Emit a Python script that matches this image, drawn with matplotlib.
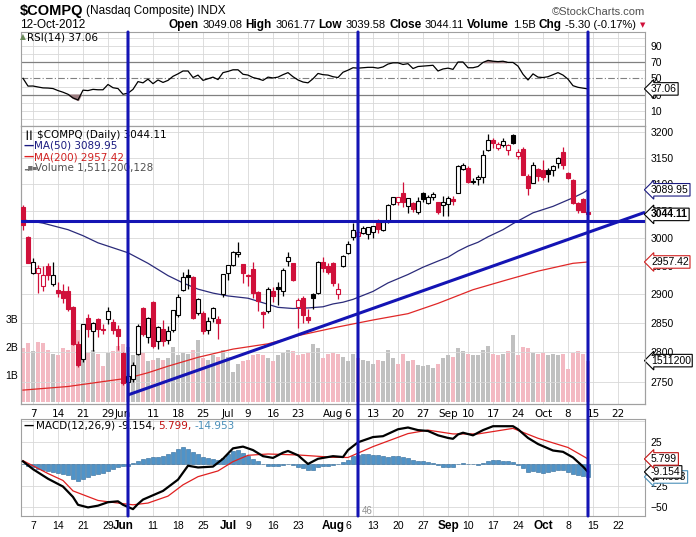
import matplotlib
matplotlib.use("Agg")
import matplotlib.pyplot as plt
from matplotlib.patches import Rectangle, ConnectionPatch
from matplotlib.transforms import blended_transform_factory
from matplotlib.ticker import FixedLocator, NullLocator
import numpy as np

W, H = 696, 537

# ---------------- data ----------------
trading_days = {
    5: [3, 4, 7, 8, 9, 10, 11, 14, 15, 16, 17, 18, 21, 22, 23, 24, 25, 29, 30, 31],
    6: [1, 4, 5, 6, 7, 8, 11, 12, 13, 14, 15, 18, 19, 20, 21, 22, 25, 26, 27, 28, 29],
    7: [2, 3, 5, 6, 9, 10, 11, 12, 13, 16, 17, 18, 19, 20, 23, 24, 25, 26, 27, 30, 31],
    8: [1, 2, 3, 6, 7, 8, 9, 10, 13, 14, 15, 16, 17, 20, 21, 22, 23, 24, 27, 28, 29, 30, 31],
    9: [4, 5, 6, 7, 10, 11, 12, 13, 14, 17, 18, 19, 20, 21, 24, 25, 26, 27, 28],
    10: [1, 2, 3, 4, 5, 8, 9, 10, 11, 12],
}
future_days = {10: [15, 16, 17, 18, 19, 22, 23, 24, 25, 26]}

prev_close = 3059.85
opens = [3058, 3003, 2938, 2938, 2915, 2950, 2918, 2908, 2905, 2906,
         2877, 2814, 2788, 2858, 2836, 2856, 2840, 2856, 2851, 2840,
         2798, 2749, 2755, 2797, 2876, 2826, 2886, 2818, 2840, 2820,
         2838, 2864, 2908, 2934, 2930, 2867, 2867, 2838, 2858, 2857,
         2900, 2938, 2952, 2972, 2953, 2934, 2944, 2904, 2869, 2870,
         2906, 2912, 2905, 2960, 2955, 2877, 2894, 2860, 2900, 2902,
         2958, 2950, 2956, 2900, 2950, 2973, 3002, 3005, 3010, 3008,
         3011, 3031, 3016, 3032, 3064, 3068, 3083, 3060, 3066, 3049,
         3083, 3066, 3076, 3067, 3062, 3063, 3072, 3083, 3130, 3132,
         3105, 3110, 3114, 3166, 3185, 3170, 3175, 3166, 3195, 3154,
         3168, 3115, 3103, 3130, 3128, 3128, 3128, 3140, 3161, 3122,
         3109, 3065, 3072, 3049.08]
highs = [3062, 3005, 2965, 2952, 2951, 2955, 2958, 2922, 2918, 2915,
         2880, 2819, 2848, 2866, 2851, 2859, 2848, 2877, 2856, 2846,
         2800, 2765, 2783, 2848, 2877, 2860, 2888, 2845, 2855, 2845,
         2873, 2900, 2939, 2944, 2933, 2894, 2870, 2860, 2878, 2862,
         2935, 2952, 2977, 2994, 2954, 2936, 2958, 2905, 2870, 2912,
         2912, 2922, 2947, 2975, 2956, 2893, 2897, 2875, 2902, 2960,
         2967, 2955, 2958, 2920, 2970, 2995, 3029, 3015, 3022, 3021,
         3023, 3036, 3034, 3064, 3077, 3077, 3105, 3075, 3068, 3076,
         3086, 3081, 3086, 3068, 3078, 3079, 3079, 3136, 3141, 3134,
         3112, 3117, 3166, 3196, 3188, 3181, 3189, 3178, 3197, 3168,
         3171, 3119, 3142, 3132, 3146, 3131, 3137, 3152, 3171, 3124,
         3110, 3068, 3074, 3061.77]
lows = [3015, 2955, 2935, 2903, 2906, 2925, 2915, 2895, 2885, 2870,
        2812, 2774, 2783, 2826, 2801, 2825, 2831, 2848, 2830, 2804,
        2744, 2726.68, 2750, 2795, 2827, 2815, 2807, 2805, 2810, 2813,
        2834, 2861, 2906, 2910, 2857, 2863, 2831, 2831, 2852, 2822,
        2896, 2926, 2951, 2967, 2920, 2915, 2894, 2870, 2841, 2868,
        2887, 2881, 2897, 2950, 2923, 2842, 2850, 2850, 2874, 2900,
        2940, 2935, 2914, 2891, 2948, 2971, 2998, 3002, 3008, 2999,
        3000, 3010, 3014, 3029, 3062, 3062, 3058, 3047, 3049, 3045,
        3068, 3063, 3070, 3045, 3042, 3042, 3062, 3083, 3127, 3102,
        3100, 3099, 3103, 3164, 3170, 3166, 3172, 3155, 3177, 3148,
        3117, 3080, 3102, 3106, 3108, 3105, 3115, 3131, 3130, 3110,
        3064, 3047, 3049, 3039.58]
closes = [3024.30, 2956.34, 2957.76, 2946.27, 2934.71, 2933.64, 2933.82, 2902.58, 2893.76, 2874.04,
          2813.69, 2778.79, 2847.21, 2839.38, 2850.12, 2839.08, 2837.53, 2870.99, 2837.36, 2827.34,
          2747.48, 2760.01, 2778.11, 2844.72, 2831.02, 2858.42, 2809.73, 2843.07, 2818.61, 2836.33,
          2872.80, 2895.33, 2929.76, 2930.45, 2859.09, 2892.42, 2836.16, 2854.06, 2875.32, 2849.49,
          2935.05, 2951.23, 2976.08, 2976.12, 2937.33, 2931.77, 2902.33, 2887.98, 2866.19, 2908.47,
          2896.94, 2910.04, 2942.60, 2965.90, 2925.30, 2890.15, 2862.99, 2854.24, 2893.25, 2958.09,
          2945.84, 2939.52, 2920.21, 2909.77, 2967.90, 2989.91, 3015.86, 3011.25, 3018.64, 3020.86,
          3022.52, 3016.98, 3030.93, 3062.39, 3076.59, 3076.21, 3067.26, 3073.67, 3053.40, 3069.79,
          3073.19, 3077.14, 3081.19, 3048.71, 3066.96, 3075.06, 3069.27, 3135.81, 3136.42, 3104.02,
          3104.53, 3114.31, 3155.83, 3183.95, 3178.67, 3177.80, 3182.62, 3175.96, 3179.96, 3160.78,
          3117.73, 3093.70, 3136.60, 3116.23, 3113.53, 3120.04, 3135.23, 3149.46, 3136.19, 3112.35,
          3065.02, 3051.78, 3049.41, 3044.11]
volume_b = [1.95, 2.15, 1.85, 2.20, 2.15, 1.90, 1.75, 1.70, 1.95, 1.90,
            2.70, 2.60, 2.00, 1.80, 1.90, 1.75, 1.30, 1.80, 1.85, 2.05,
            2.10, 2.00, 1.70, 1.75, 1.80, 1.50, 1.55, 1.60, 1.55, 1.60,
            2.00, 1.70, 1.80, 1.75, 1.90, 2.25, 1.60, 1.55, 1.70, 1.65,
            1.90, 1.65, 1.10, 1.40, 1.50, 1.55, 1.70, 1.75, 1.70, 1.60,
            1.50, 1.70, 1.80, 1.90, 1.85, 1.70, 1.75, 1.80, 2.10, 1.95,
            1.60, 1.75, 1.80, 1.75, 1.65, 1.50, 1.75, 1.60, 1.55, 1.50,
            1.40, 1.55, 1.50, 1.90, 1.60, 1.40, 1.75, 1.50, 1.55, 1.35,
            1.30, 1.35, 1.25, 1.40, 1.60, 1.70, 1.65, 1.95, 1.85, 1.75,
            1.70, 1.70, 1.90, 2.05, 1.75, 1.70, 1.75, 1.85, 2.45, 1.70,
            2.00, 1.95, 1.80, 1.75, 1.80, 1.70, 1.75, 1.70, 1.75, 1.20,
            1.80, 1.85, 1.75, 1.51]

# moving averages read at selected sessions (session index, value)
ma50_idx = [0, 4, 9, 12, 15, 18, 21, 25, 29, 32, 35, 38, 41, 45, 48, 51, 54, 57, 60, 62,
            64, 66, 70, 73, 77, 80, 83, 85, 87, 89, 91, 93, 96, 98, 100, 102, 104, 106,
            108, 110, 112, 113]
ma50_val = [3034, 3028, 3016, 3005, 2992, 2983, 2974, 2955, 2933, 2920, 2909, 2902, 2897,
            2893, 2885, 2877, 2875, 2876, 2878, 2883, 2886, 2891, 2905, 2920, 2935, 2948,
            2959, 2966, 2977, 2986, 2993, 3003, 3016, 3027, 3037, 3047, 3053, 3059, 3067,
            3075, 3084, 3089.95]
ma200_idx = [0, 9, 15, 21, 25, 29, 35, 42, 49, 55, 63, 70, 77, 83, 90, 97, 103, 110, 113]
ma200_val = [2736, 2742, 2749, 2756, 2765, 2776, 2791, 2805, 2814, 2828, 2843, 2855, 2866,
             2884, 2908, 2926, 2941, 2955, 2957.42]

rsi = [50.0, 40.5, 40.6, 39.4, 38.3, 38.1, 37.5, 35.0, 33.0, 30.5,
       26.0, 23.5, 35.5, 35.0, 36.5, 36.0, 36.0, 42.5, 38.5, 37.5,
       30.5, 31.8, 36.5, 46.0, 44.5, 49.0, 43.5, 48.0, 45.0, 47.5,
       52.5, 55.5, 59.0, 59.0, 51.0, 54.0, 47.5, 49.5, 51.5, 48.5,
       57.0, 58.5, 60.5, 60.5, 55.0, 54.0, 51.0, 49.5, 47.5, 51.5,
       50.5, 51.5, 54.5, 57.0, 52.0, 48.0, 45.5, 44.5, 49.5, 56.0,
       54.5, 54.0, 52.0, 51.0, 57.5, 60.0, 63.0, 62.5, 63.0, 63.5,
       63.5, 62.5, 64.0, 67.5, 69.0, 69.0, 67.0, 68.0, 62.0, 64.5,
       65.0, 65.5, 66.0, 59.0, 61.5, 62.5, 61.0, 70.0, 70.0, 63.0,
       63.0, 64.5, 69.5, 72.0, 71.0, 70.5, 71.0, 69.5, 69.5, 65.0,
       55.0, 48.0, 55.5, 51.5, 51.0, 52.0, 54.5, 57.0, 54.0, 49.0,
       41.0, 39.0, 38.0, 37.06]

macd_idx = [0, 2, 5, 8, 10, 11, 13, 15, 17, 19, 20, 22, 23, 24, 26, 28, 31, 33, 35, 38,
            40, 42, 44, 46, 48, 50, 52, 53, 55, 57, 59, 62, 64, 65, 67, 70, 72, 75, 77,
            79, 81, 83, 85, 86, 87, 88, 90, 92, 94, 98, 99, 101, 103, 106, 108, 110, 112, 113]
macd_val = [3, -6, -17, -26, -38, -47, -50, -48, -44, -43, -47, -52, -46, -41, -36, -31,
            -18, -2, -4, -3, 6, 18, 20, 16, 9, 7, 13, 15, 10, 0, 6, 9, 8, 16, 25, 31, 32,
            40, 42, 39, 38, 33, 30, 29, 34, 36, 33, 39, 43.5, 43.5, 40, 30, 23, 15.5, 14,
            7.5, -3, -9.154]
signal_idx = [0, 5, 8, 10, 15, 19, 22, 25, 29, 32, 35, 39, 42, 45, 49, 55, 62, 65, 70, 77,
              81, 86, 91, 98, 103, 109, 113]
signal_val = [3.8, -11, -19, -31, -42, -45, -47, -45, -37, -24, -14.6, -8, 2.7, 10, 11.5,
              10.4, 7.7, 7.5, 20, 35, 39, 34.6, 34.6, 41, 29.6, 19, 5.799]
hist = [0, -2, -4, -5.5, -7, -8, -9, -10, -11, -13,
        -17, -19.5, -17, -15, -13, -11, -10, -8, -6, -4,
        -2.5, -2, 1, 3.5, 6, 7, 7.5, 7.5, 9, 11,
        14, 17, 19, 17, 14, 11, 8, 6.5, 6, 5,
        7, 11, 15, 16, 13, 9, 6, 3, 0, -2,
        -2.5, -2, -1, 0.5, -1.5, -3, -5, -7, -6.5, -4,
        -2.5, -2, -1, 0.5, 2, 5, 9, 10.5, 11, 11,
        10.5, 10, 9.5, 8.5, 9, 9.5, 8.5, 7, 5, 4,
        3, 2, 1, -1.5, -3, -3.5, -3.5, -0.5, 1, 0.5,
        -0.5, -1, 1.5, 3.5, 4.5, 4.5, 4, 3, 2, -1,
        -5, -9, -8.5, -9, -10, -9.5, -8.5, -7.5, -7, -9,
        -11, -13, -14, -14.953]

# annotations drawn by the chartist
hline_price = 3032
trend_idx = [21, 124.4]
trend_val = [2728, 3048]
vline_dates = [(6, 4), (8, 8), (10, 12)]

month_names = {5: "May", 6: "Jun", 7: "Jul", 8: "Aug", 9: "Sep", 10: "Oct"}
week_labels = [(5, 7), (5, 14), (5, 21), (5, 29), (6, 11), (6, 18), (6, 25), (7, 9), (7, 16),
               (7, 23), (8, 6), (8, 13), (8, 20), (8, 27), (9, 10), (9, 17), (9, 24), (10, 8),
               (10, 15), (10, 22)]
month_labels = [(6, 1), (7, 2), (8, 1), (9, 4), (10, 1)]
grid_dates = [(5, 7), (5, 14), (5, 21), (5, 29), (6, 4), (6, 11), (6, 18), (6, 25), (7, 2),
              (7, 9), (7, 16), (7, 23), (7, 30), (8, 6), (8, 13), (8, 20), (8, 27), (9, 4),
              (9, 10), (9, 17), (9, 24), (10, 1), (10, 8), (10, 15), (10, 22)]

# ---------------- helpers ----------------
sessions = [(m, d) for m in sorted(trading_days) for d in trading_days[m]]
all_sessions = sessions + [(m, d) for m in future_days for d in future_days[m]]
pos = {md: i for i, md in enumerate(all_sessions)}
n = len(sessions)
x = np.arange(n)

opens = np.array(opens, float); highs = np.array(highs, float)
lows = np.array(lows, float); closes = np.array(closes, float)
prevs = np.concatenate([[prev_close], closes[:-1]])

RED = "#d0103a"
BLUE = "#1414b4"
GRID = "#d8d8d8"
SPINE = "#a0a0a0"
FONT = "Liberation Sans"
LFONT = "DejaVu Sans"

fig = plt.figure(figsize=(W / 100, H / 100), dpi=100)
fig.patch.set_facecolor("white")


def rect(top, bottom, left=21, right=645):
    return [left / W, 1 - bottom / H, (right - left) / W, (bottom - top) / H]


XMIN, XMAX = -0.4, 124.4
ax_rsi = fig.add_axes(rect(32, 126))
ax_vol = fig.add_axes(rect(126, 404))
ax_p = ax_vol.twinx()
ax_m = fig.add_axes(rect(419, 516))

for ax in (ax_rsi, ax_vol, ax_p, ax_m):
    ax.set_xlim(XMIN, XMAX)
    for s in ax.spines.values():
        s.set_color(SPINE)
        s.set_linewidth(0.8)
    ax.tick_params(length=0, labelsize=7.5, colors="black")

gx = [pos[d] for d in grid_dates]


def vgrid(ax):
    for g in gx:
        ax.axvline(g, color=GRID, lw=0.6, zorder=0.5)


# ---------- RSI ----------
ax_rsi.set_ylim(-8.4, 106.8)
vgrid(ax_rsi)
for lv in range(0, 101, 10):
    if lv not in (30, 50, 70):
        ax_rsi.axhline(lv, color=GRID, lw=0.6, zorder=0.5)
ax_rsi.axhline(70, color="#808080", lw=0.9, zorder=1)
ax_rsi.axhline(30, color="#808080", lw=0.9, zorder=1)
ax_rsi.axhline(50, color="#808080", lw=0.8, ls=(0, (6, 2, 1, 2)), zorder=1)
rsi_a = np.array(rsi)
ax_rsi.fill_between(x, rsi_a, 30, where=rsi_a < 30, interpolate=True, color="#9c7c80", zorder=1.5)
ax_rsi.fill_between(x, rsi_a, 70, where=rsi_a > 70, interpolate=True, color="#9c7c80", zorder=1.5)
ax_rsi.plot(x, rsi_a, color="black", lw=0.9, zorder=2)
ax_rsi.yaxis.tick_right()
ax_rsi.yaxis.set_major_locator(FixedLocator([10, 30, 50, 70, 90]))
ax_rsi.tick_params(axis="y", pad=4)
ax_rsi.set_xticks([])
for lab in ax_rsi.get_yticklabels():
    lab.set_fontfamily(FONT)

# ---------- volume ----------
ax_vol.set_ylim(-0.055, 9.98)
vgrid(ax_vol)
vcolors = ["#f3b9c2" if c < p else "#c0c0c0" for c, p in zip(closes, prevs)]
ax_vol.bar(x, volume_b, width=0.82, color=vcolors, zorder=1, linewidth=0)
ax_vol.yaxis.tick_left()
ax_vol.yaxis.set_major_locator(FixedLocator([1, 2, 3]))
ax_vol.set_yticklabels(["1B", "2B", "3B"])
ax_vol.tick_params(axis="y", pad=2)
for lab in ax_vol.get_yticklabels():
    lab.set_fontfamily(FONT)
ax_vol.set_xticks([])

# ---------- price ----------
ax_vol.set_zorder(1)
ax_p.set_zorder(2)
ax_p.patch.set_visible(False)
ax_p.set_yscale("log")
ax_p.set_ylim(2713, 3212)
pticks = [2750, 2800, 2850, 2900, 2950, 3000, 3050, 3100, 3150, 3200]
ax_p.yaxis.set_major_locator(FixedLocator(pticks))
ax_p.yaxis.set_minor_locator(NullLocator())
ax_p.set_yticklabels([str(t) for t in pticks])
ax_p.tick_params(axis="y", which="both", length=0, pad=4, labelsize=7.5)
for lab in ax_p.get_yticklabels():
    lab.set_fontfamily(FONT)
for t in pticks:
    ax_p.axhline(t, color=GRID, lw=0.6, zorder=0.6)

ax_p.plot(ma200_idx, ma200_val, color="#e02828", lw=0.9, zorder=3)
ax_p.plot(ma50_idx, ma50_val, color="#2b2b7a", lw=0.9, zorder=3)

bw = 0.78
for i in range(n):
    o, h, l, c, p = opens[i], highs[i], lows[i], closes[i], prevs[i]
    col = RED if c < p else "black"
    filled = c < o
    ax_p.plot([i, i], [l, h], color=col, lw=0.9, zorder=4, solid_capstyle="butt")
    lo_b, hi_b = min(o, c), max(o, c)
    if hi_b / lo_b < 1.0008:
        hi_b = lo_b * 1.0008
    ax_p.add_patch(Rectangle((i - bw / 2, lo_b), bw, hi_b - lo_b,
                             facecolor=col if filled else "white",
                             edgecolor=col, lw=0.8, zorder=5))

ax_p.axhline(hline_price, color=BLUE, lw=2.2, zorder=6)
ax_p.plot(trend_idx, trend_val, color=BLUE, lw=2.2, zorder=6, solid_capstyle="butt", clip_on=True)


def date_ticks(ax):
    ticks, labels, bold = [], [], []
    for md in month_labels:
        ticks.append(pos[md]); labels.append(month_names[md[0]]); bold.append(True)
    for md in week_labels:
        ticks.append(pos[md]); labels.append(str(md[1])); bold.append(False)
    order = np.argsort(ticks)
    ticks = [ticks[k] for k in order]
    labels = [labels[k] for k in order]
    bold = [bold[k] for k in order]
    ax.xaxis.set_major_locator(FixedLocator(ticks))
    ax.set_xticklabels(labels)
    ax.tick_params(axis="x", length=0, pad=2.5)
    for lab, b in zip(ax.get_xticklabels(), bold):
        lab.set_fontfamily(FONT)
        lab.set_verticalalignment("center")
        if b:
            lab.set_fontweight("bold")
            lab.set_fontsize(8.5)
        else:
            lab.set_fontsize(7.5)
    ax.tick_params(axis="x", pad=8)


date_ticks(ax_p)

# ---------- MACD ----------
ax_m.set_ylim(-59.9, 51.8)
vgrid(ax_m)
for lv in (50, 25, 0, -25, -50):
    ax_m.axhline(lv, color=GRID, lw=0.6, zorder=0.5)
ax_m.bar(x, hist, width=0.85, color="#4f93c8", edgecolor="#2d6796", linewidth=0.4, zorder=2)
ax_m.plot(signal_idx, signal_val, color="#e02020", lw=0.9, zorder=3)
ax_m.plot(macd_idx, macd_val, color="black", lw=1.6, zorder=4)
ax_m.yaxis.tick_right()
ax_m.yaxis.set_major_locator(FixedLocator([25, 0, -25, -50]))
ax_m.tick_params(axis="y", pad=4)
for lab in ax_m.get_yticklabels():
    lab.set_fontfamily(FONT)
date_ticks(ax_m)
ax_m.tick_params(axis="x", pad=7)

# ---------- vertical chartist lines ----------
for md in vline_dates:
    xi = pos[md]
    cp = ConnectionPatch(xyA=(xi, 106.8), coordsA="data", axesA=ax_rsi,
                         xyB=(xi, -59.9), coordsB="data", axesB=ax_m,
                         color=BLUE, lw=2.2, zorder=10)
    fig.add_artist(cp)

# ---------- texts ----------
renderer = fig.canvas.get_renderer()


def seq(x_px, y_px, parts, align="left", gap=3.0):
    objs = []
    widths = []
    for s, st in parts:
        t = fig.text(0, 0, s, va="center", ha="left", **st)
        widths.append(t.get_window_extent(renderer=renderer).width)
        objs.append(t)
    total = sum(widths) + gap * (len(parts) - 1)
    xx = x_px if align == "left" else x_px - total
    for t, w in zip(objs, widths):
        t.set_position((xx / W, 1 - y_px / H))
        xx += w + gap
    return objs


seq(20, 11, [("$COMPQ", dict(fontsize=10.5, fontweight="bold", family=FONT)),
             ("(Nasdaq Composite) INDX", dict(fontsize=8.5, family=FONT))], gap=2)
fig.text(645 / W, 1 - 12 / H, "\u00a9StockCharts.com", ha="right", va="center",
         fontsize=8, family=FONT, color="#505050")
fig.text(20 / W, 1 - 25 / H, "12-Oct-2012", ha="left", va="center", fontsize=8.5, family=FONT)
b = dict(fontsize=8.5, fontweight="bold", family=FONT)
r = dict(fontsize=8, family=FONT)
seq(645, 25, [("Open", b), ("3049.08", r), ("High", b), ("3061.77", r), ("Low", b),
              ("3039.58", r), ("Close", b), ("3044.11", r), ("Volume", b), ("1.5B", r),
              ("Chg", b), ("-5.30 (-0.17%)", r), ("\u25bc", dict(fontsize=5, color=RED, family="DejaVu Sans"))],
    align="right", gap=3.4)

lf = dict(fontsize=7.5, family=LFONT)
fig.text(20 / W, 1 - 37 / H, "\u25b2", ha="left", va="center", color="#6a8a5a", fontsize=5.5, family=LFONT)
fig.text(27 / W, 1 - 37 / H, "RSI(14) 37.06", ha="left", va="center", **lf)
fig.text(24 / W, 1 - 135 / H, "\u2503\u2503", ha="left", va="center", color="black", fontsize=5.5, family=LFONT)
fig.text(37 / W, 1 - 135 / H, "$COMPQ (Daily) 3044.11", ha="left", va="center", color="black", **lf)
fig.text(24 / W, 1 - 146 / H, "\u2014", ha="left", va="center", color="#1a1a80", fontweight="bold", fontsize=7.5, family=LFONT)
fig.text(34 / W, 1 - 146 / H, "MA(50) 3089.95", ha="left", va="center", color="#1a1a80", **lf)
fig.text(24 / W, 1 - 157 / H, "\u2014", ha="left", va="center", color="#e02020", fontweight="bold", fontsize=7.5, family=LFONT)
fig.text(34 / W, 1 - 157 / H, "MA(200) 2957.42", ha="left", va="center", color="#d02020", **lf)
fig.text(24 / W, 1 - 168 / H, "\u2582\u2586\u2584", ha="left", va="center", color="#707070", fontsize=4, family=LFONT)
fig.text(35 / W, 1 - 168 / H, "Volume 1,511,200,128", ha="left", va="center", color="#505050", **lf)

fig.text(24 / W, 1 - 426 / H, "\u2014", ha="left", va="center", color="black", fontweight="bold", fontsize=7.5, family=LFONT)
seq(36, 426, [("MACD(12,26,9) -9.154,", dict(color="black", **lf)),
              ("5.799,", dict(color="#c01010", **lf)),
              ("-14.953", dict(color="#4a8fb8", **lf))], gap=3)
fig.text(362 / W, 1 - 511 / H, "46", ha="left", va="center", fontsize=7, family=FONT, color="#909090")


def vbox(ax, yv, s, ec, bold=False):
    tr = blended_transform_factory(fig.transFigure, ax.transData)
    ax.text(651 / W, yv, s, transform=tr, ha="left", va="center", fontsize=7.5,
            family=FONT, fontweight="bold" if bold else "normal", clip_on=False, zorder=20,
            bbox=dict(boxstyle="larrow,pad=0.12", fc="white", ec=ec, lw=0.8))


vbox(ax_rsi, 37.06, "37.06", "black")
vbox(ax_p, 3089.95, "3089.95", "#1a1a80")
vbox(ax_p, 3044.11, "3044.11", "black", bold=True)
vbox(ax_p, 2957.42, "2957.42", "#d02020")
vbox(ax_vol, 1.5112, "1511200", "black")
vbox(ax_m, -14.953, "-14.953", "#4a8fb8")
vbox(ax_m, -9.154, "-9.154", "black")
vbox(ax_m, 5.799, "5.799", "#c01010")

fig.savefig("out.png", dpi=100, facecolor="white")
